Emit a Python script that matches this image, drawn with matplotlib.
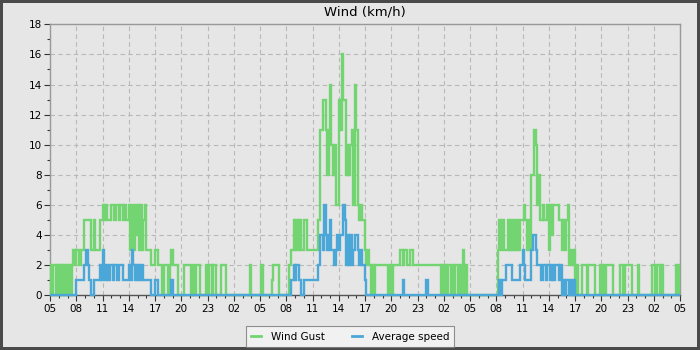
import numpy as np
import matplotlib
matplotlib.use("Agg")
import matplotlib.pyplot as plt
from matplotlib.ticker import MultipleLocator

# 10-minute samples, 144 per day, starting 05:00
gust_day1 = [2, 0, 2, 2, 0, 2, 0, 2, 0, 2, 0, 2,
             0, 2, 0, 2, 3, 2, 3, 3, 2, 3, 3, 5,
             5, 5, 5, 5, 3, 3, 5, 3, 3, 3, 5, 5,
             6, 5, 6, 5, 5, 5, 6, 6, 5, 6, 6, 5,
             6, 6, 5, 6, 5, 5, 6, 3, 6, 3, 6, 4,
             6, 3, 6, 3, 5, 6, 3, 3, 3, 2, 2, 2,
             3, 3, 2, 2, 2, 0, 2, 2, 2, 0, 2, 3,
             2, 2, 2, 2, 0, 0, 0, 0, 2, 2, 2, 2,
             2, 0, 2, 0, 2, 2, 2, 0, 0, 0, 0, 2,
             0, 2, 2, 0, 2, 2, 0, 0, 0, 2, 2, 2,
             2, 0, 0, 0, 0, 0, 0, 0, 0, 0, 0, 0,
             0, 0, 0, 0, 0, 2, 0, 0, 0, 0, 0, 0]
gust_day2 = [0, 2, 0, 0, 0, 0, 0, 0, 1, 2, 2, 2,
             2, 0, 0, 0, 0, 0, 0, 0, 2, 3, 3, 5,
             3, 5, 3, 5, 3, 3, 5, 5, 3, 3, 3, 3,
             3, 3, 3, 3, 5, 11, 11, 13, 13, 11, 8, 11,
             14, 10, 8, 10, 6, 6, 13, 11, 16, 13, 13, 8,
             10, 8, 10, 11, 6, 14, 11, 6, 5, 6, 5, 5,
             3, 2, 3, 2, 0, 2, 0, 2, 2, 2, 2, 2,
             2, 2, 2, 2, 0, 2, 0, 2, 2, 2, 2, 2,
             3, 3, 2, 3, 3, 2, 2, 3, 3, 2, 2, 2,
             2, 2, 2, 2, 2, 2, 2, 2, 2, 2, 2, 2,
             2, 2, 2, 2, 0, 2, 0, 2, 0, 2, 2, 0,
             2, 0, 2, 2, 0, 2, 0, 3, 0, 2, 0, 0]
gust_day3 = [0, 0, 0, 0, 0, 0, 0, 0, 0, 0, 0, 0,
             0, 0, 0, 0, 0, 0, 0, 3, 5, 3, 5, 3,
             3, 3, 5, 3, 5, 3, 5, 3, 5, 3, 5, 5,
             5, 6, 5, 3, 5, 3, 8, 8, 11, 10, 6, 8,
             5, 5, 6, 5, 5, 6, 3, 6, 4, 6, 6, 6,
             6, 5, 5, 3, 5, 3, 5, 6, 2, 3, 2, 3,
             0, 2, 0, 0, 0, 2, 2, 2, 0, 2, 2, 2,
             2, 2, 0, 0, 0, 2, 0, 2, 0, 2, 2, 2,
             2, 2, 0, 0, 0, 0, 0, 2, 2, 0, 2, 2,
             2, 2, 2, 0, 0, 0, 0, 2, 0, 0, 0, 0,
             0, 0, 0, 0, 0, 2, 2, 0, 2, 2, 0, 2,
             0, 0, 0, 0, 0, 0, 0, 0, 0, 2, 0, 2]

avg_day1 = [0, 0, 0, 0, 0, 0, 0, 0, 0, 0, 0, 0,
            0, 0, 0, 0, 0, 0, 1, 1, 1, 1, 1, 2,
            2, 3, 2, 1, 0, 0, 1, 1, 1, 1, 2, 1,
            3, 2, 1, 2, 1, 2, 2, 1, 2, 2, 1, 2,
            2, 2, 1, 1, 1, 1, 2, 1, 3, 2, 1, 2,
            1, 2, 1, 2, 1, 1, 1, 1, 1, 0, 0, 0,
            1, 1, 0, 0, 0, 0, 0, 0, 0, 0, 0, 1] + [0] * 60
avg_day2 = [0, 0, 0, 0, 0, 0, 0, 0, 0, 0, 0, 0,
            0, 0, 0, 0, 0, 0, 0, 0, 0, 1, 1, 2,
            1, 2, 2, 1, 0, 0, 1, 1, 1, 1, 1, 1,
            1, 1, 1, 1, 2, 4, 4, 3, 6, 4, 3, 4,
            5, 3, 3, 2, 3, 4, 3, 4, 4, 6, 5, 2,
            4, 2, 4, 2, 3, 4, 4, 3, 2, 3, 2, 2,
            1, 0, 0, 0, 0, 0, 0, 0, 0, 0, 0, 0,
            0, 0, 0, 0, 0, 0, 0, 0, 0, 0, 0, 0,
            0, 0, 1, 0, 0, 0, 0, 0, 0, 0, 0, 0,
            0, 0, 0, 0, 0, 0, 1, 0, 0, 0, 0, 0] + [0] * 24
avg_day3 = [0, 0, 0, 0, 0, 0, 0, 0, 0, 0, 0, 0,
            0, 0, 0, 0, 0, 0, 0, 0, 1, 0, 1, 1,
            1, 2, 2, 2, 2, 1, 1, 1, 1, 1, 2, 2,
            3, 2, 1, 1, 1, 1, 3, 4, 4, 3, 2, 2,
            2, 1, 2, 2, 1, 2, 2, 1, 2, 1, 2, 2,
            2, 1, 2, 0, 1, 0, 1, 1, 0, 1, 0, 1] + [0] * 72

hour_labels = ["05", "08", "11", "14", "17", "20", "23", "02",
               "05", "08", "11", "14", "17", "20", "23", "02",
               "05", "08", "11", "14", "17", "20", "23", "02", "05"]

gust = np.array(gust_day1 + gust_day2 + gust_day3, dtype=float)
avg = np.array(avg_day1 + avg_day2 + avg_day3, dtype=float)
edges = np.arange(len(gust) + 1) / 6.0

bg = "#e6e6e6"
fig = plt.figure(figsize=(7, 3.5), dpi=100, facecolor=bg,
                 edgecolor="#4a4a4a", linewidth=4)
ax = fig.add_axes([50 / 700, 1 - 295.3 / 350, 630 / 700, 271 / 350])
ax.set_facecolor(bg)

ax.stairs(gust, edges, baseline=None, color="#72d572", lw=1.7,
          label="Wind Gust", clip_on=False, zorder=3)
ax.stairs(avg, edges, baseline=None, color="#4ba7d8", lw=1.7,
          label="Average speed", clip_on=False, zorder=4)

ax.set_xlim(0, 72)
ax.set_ylim(0, 18)
ax.set_xticks(np.arange(0, 73, 3))
ax.set_xticklabels(hour_labels)
ax.xaxis.set_minor_locator(MultipleLocator(1))
ax.yaxis.set_major_locator(MultipleLocator(2))
ax.yaxis.set_minor_locator(MultipleLocator(1))
ax.tick_params(labelsize=7.5, length=4, width=0.8, color="#333333", pad=2)
ax.tick_params(which="minor", length=2.5, width=0.8, color="#333333")
ax.grid(True, which="major", ls=(0, (4, 3)), color="#b8b8b8", lw=0.8)
ax.set_axisbelow(True)
for s in ax.spines.values():
    s.set_color("#999999")
    s.set_linewidth(1)
ax.spines["bottom"].set_color("#555555")

ax.set_title("Wind (km/h)", fontsize=9.5, pad=6.5)

leg = fig.legend(loc="center", bbox_to_anchor=(0.5, 1 - 336.5 / 350), ncol=2,
                 fontsize=7.5, frameon=True, fancybox=False, handlelength=1.0,
                 columnspacing=2.6, borderpad=0.5, handletextpad=0.9)
leg.get_frame().set_facecolor("#f4f4f4")
leg.get_frame().set_edgecolor("#777777")
leg.get_frame().set_linewidth(0.8)
for h in leg.legend_handles:
    h.set_linewidth(2)

fig.savefig("out.png", dpi=100, facecolor=bg, edgecolor="#4a4a4a")
